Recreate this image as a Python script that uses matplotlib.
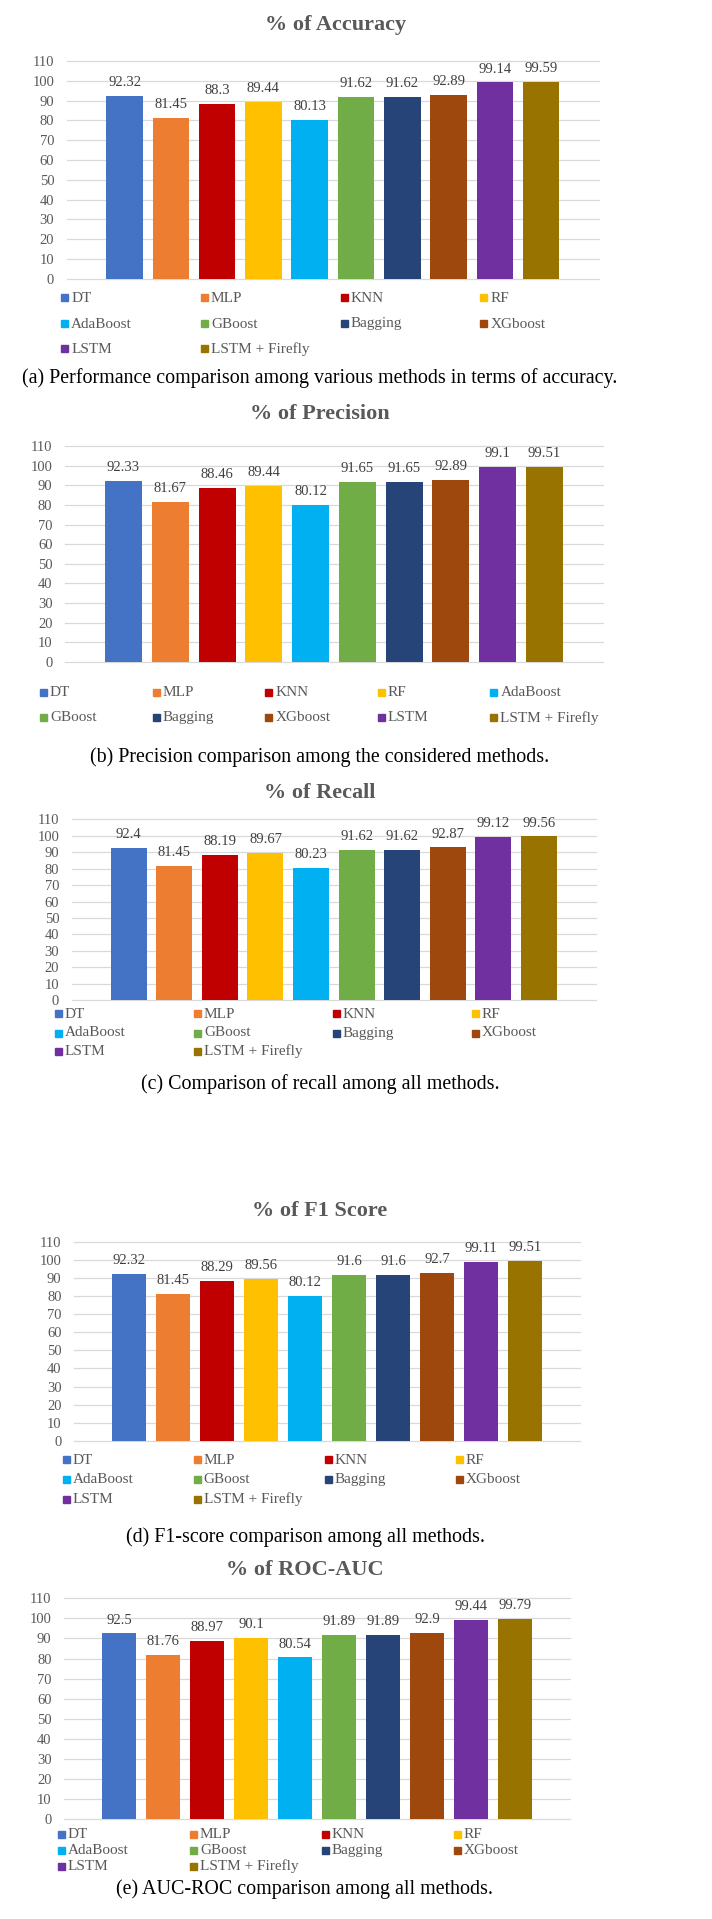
import matplotlib
matplotlib.use('Agg')
import matplotlib.pyplot as plt
from matplotlib.patches import Rectangle

plt.rcParams['font.family'] = ['Liberation Serif', 'DejaVu Serif']

methods = ['DT', 'MLP', 'KNN', 'RF', 'AdaBoost', 'GBoost', 'Bagging', 'XGboost', 'LSTM', 'LSTM + Firefly']
colors = ['#4472C4', '#ED7D31', '#C00000', '#FFC000', '#00B0F0',
          '#70AD47', '#264478', '#9E480E', '#7030A0', '#997300']

accuracy = [92.32, 81.45, 88.3, 89.44, 80.13, 91.62, 91.62, 92.89, 99.14, 99.59]
precision = [92.33, 81.67, 88.46, 89.44, 80.12, 91.65, 91.65, 92.89, 99.1, 99.51]
recall = [92.4, 81.45, 88.19, 89.67, 80.23, 91.62, 91.62, 92.87, 99.12, 99.56]
f1 = [92.32, 81.45, 88.29, 89.56, 80.12, 91.6, 91.6, 92.7, 99.11, 99.51]
rocauc = [92.5, 81.76, 88.97, 90.1, 80.54, 91.89, 91.89, 92.9, 99.44, 99.79]

titles = ['% of Accuracy', '% of Precision', '% of Recall', '% of F1 Score', '% of ROC-AUC']
captions = ['(a) Performance comparison among various methods in terms of accuracy.',
            '(b) Precision comparison among the considered methods.',
            '(c) Comparison of recall among all methods.',
            '(d) F1-score comparison among all methods.',
            '(e) AUC-ROC comparison among all methods.']
yticks = [0, 10, 20, 30, 40, 50, 60, 70, 80, 90, 100, 110]

W, H = 712, 1919
fig = plt.figure(figsize=(W / 100, H / 100), dpi=100)
fig.patch.set_facecolor('white')

# pixel layout of each panel: axes box, title, legend, caption
panels = [
    dict(box=(66.7, 61, 599, 278.7), title=(336, 25), rows=[298, 324, 349], x0=61.3, dx=139.7, ncol=4, cap=(320, 378)),
    dict(box=(65, 446, 603, 662), title=(320, 414), rows=[692, 717.7], x0=40, dx=112.6, ncol=5, cap=(320, 757)),
    dict(box=(71.7, 819.3, 596, 1000.2), title=(320, 793), rows=[1014, 1033, 1051], x0=55, dx=139, ncol=4, cap=(320, 1084)),
    dict(box=(74, 1242, 580, 1440.7), title=(320, 1211), rows=[1460, 1479.3, 1499.3], x0=62.7, dx=131, ncol=4, cap=(305, 1537)),
    dict(box=(64, 1598.3, 570, 1819.3), title=(305, 1570), rows=[1834, 1850.3, 1866], x0=58, dx=132, ncol=4, cap=(305, 1889)),
]
data = [accuracy, precision, recall, f1, rocauc]

grey = '#595959'

for k in range(5):
    p = panels[k]
    x1, y1, x2, y2 = p['box']
    ax = fig.add_axes([x1 / W, 1 - y2 / H, (x2 - x1) / W, (y2 - y1) / H])
    xs = list(range(len(methods)))
    bars = ax.bar(xs, data[k], width=0.79, color=colors, zorder=2)
    ax.bar_label(bars, labels=['{:g}'.format(v) for v in data[k]], padding=5,
                 fontsize=10.5, color='#404040')
    ax.set_xlim(-1.25, 10.25)
    ax.set_ylim(0, 110)
    ax.set_yticks(yticks)
    ax.set_xticks([])
    ax.grid(axis='y', color='#D9D9D9', linewidth=0.9, zorder=0)
    ax.set_axisbelow(True)
    for s in ax.spines.values():
        s.set_visible(False)
    ax.tick_params(axis='y', length=0, pad=9, labelsize=10.5, labelcolor=grey)
    for gl in ax.get_ygridlines():
        gl.set_clip_on(False)

    fig.text(p['title'][0] / W, 1 - p['title'][1] / H, titles[k], ha='center', va='center',
             fontsize=16, fontweight='bold', color=grey)

    # legend laid out like the spreadsheet one: fixed-width columns
    for i, m in enumerate(methods):
        r = i // p['ncol']
        c = i % p['ncol']
        lx = p['x0'] + c * p['dx']
        ly = p['rows'][r]
        fig.patches.append(Rectangle((lx / W, 1 - (ly + 3.5) / H), 7 / W, 7 / H,
                                     transform=fig.transFigure, color=colors[i]))
        fig.text((lx + 10) / W, 1 - ly / H, m, ha='left', va='center', fontsize=11, color=grey)

    fig.text(p['cap'][0] / W, 1 - p['cap'][1] / H, captions[k], ha='center', va='center',
             fontsize=14.4, color='black')

fig.savefig('out.png', dpi=100, facecolor='white')
